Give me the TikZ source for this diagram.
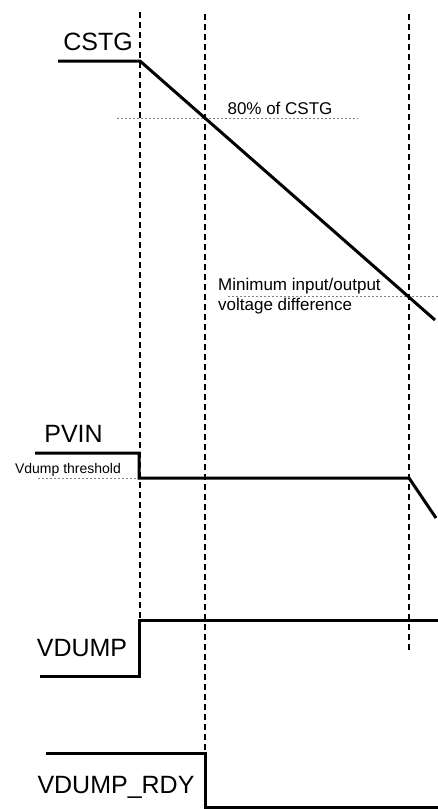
\documentclass[tikz,border=0pt]{standalone}
\usepackage{fontspec}
\setmainfont{Liberation Sans}
\usepackage{tikz}

\begin{document}
\begin{tikzpicture}[x=1pt,y=-1pt,
    wave/.style={line width=3pt},
    guide/.style={line width=1.2pt,dash pattern=on 6pt off 4pt},
    level/.style={gray,line width=0.9pt,dash pattern=on 2pt off 2pt},
    biglabel/.style={inner sep=0pt,font=\fontsize{25}{30}\selectfont},
    smalllabel/.style={inner sep=0pt,font=\fontsize{17}{20}\selectfont}]
      \useasboundingbox (0,0) rectangle (438,809);
      \draw [guide] (140,12) -- (140,620);
      \draw [guide] (205,14) -- (205,753);
      \draw [guide] (409,14) -- (409,652);
      \draw [level] (117,118) -- (358,118);
      \draw [level] (228,296) -- (438,296);
      \draw [level] (38,478) -- (139,478);
      \draw [wave] (58,61) -- (140,61) -- (435,320);
      \draw [wave] (35,453) -- (139,453) -- (139,478) -- (409,478) -- (436,518);
      \draw [wave] (40,676) -- (139,676) -- (139,620) -- (438,620);
      \draw [wave] (46,753) -- (205,753) -- (205,807) -- (438,807);
      \node [biglabel] (cstg) at (98,42) {CSTG};
      \node [smalllabel,anchor=base] (pct) at (280,114) {80\% of CSTG};
      \node [smalllabel,anchor=north west,align=left] (mindiff) at (218,278) {Minimum input/output\\voltage difference};
      \node [biglabel] (pvin) at (73.5,434) {PVIN};
      \node [inner sep=0pt,font=\fontsize{14}{17}\selectfont,anchor=base] (thr) at (68,473) {Vdump threshold};
      \node [biglabel] (vdump) at (82,648) {VDUMP};
      \node [biglabel,anchor=base] (rdy) at (116,793) {VDUMP\_RDY};
    \end{tikzpicture}
\end{document}
